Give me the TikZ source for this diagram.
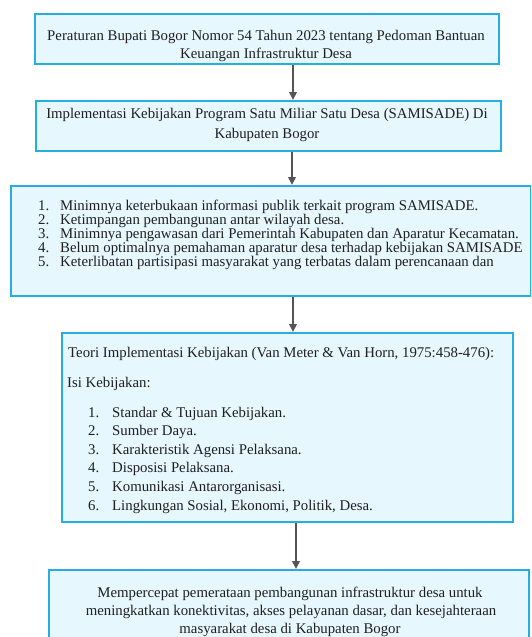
\documentclass[tikz,border=0pt]{standalone}
\usepackage{fontspec}
\setmainfont{Liberation Serif}
\usetikzlibrary{arrows.meta}
\definecolor{boxline}{HTML}{25AEE0}
\definecolor{boxfill}{HTML}{E6F7FE}
\definecolor{arrgray}{HTML}{555555}
\tikzset{
  box/.style={draw=boxline, fill=boxfill, line width=2.4pt, rectangle, inner sep=0pt},
  txt/.style={inner sep=0pt, anchor=base west, text=black!88, font=\fontsize{14.8}{17}\selectfont},
  ctxt/.style={txt, anchor=base},
  arr/.style={draw=arrgray, line width=2pt, -{Triangle[length=8pt,width=7.5pt]}}
}
\begin{document}
\begin{tikzpicture}[x=1pt,y=-1pt]
\useasboundingbox (0,0) rectangle (531,637);
\clip (0,0) rectangle (531,637);
% boxes
\node[box, minimum width=464pt, minimum height=49.5pt, anchor=north west] (B1) at (34,13) {};
\node[box, minimum width=465pt, minimum height=50pt, anchor=north west] (B2) at (35,100) {};
\node[box, minimum width=520pt, minimum height=110pt, anchor=north west] (B3) at (10,185) {};
\node[box, minimum width=451pt, minimum height=189pt, anchor=north west] (B4) at (61,332) {};
\node[box, minimum width=480pt, minimum height=90pt, anchor=north west] (B5) at (48,569) {};
% box 1 text
\node[ctxt] (t1a) at (266,40.5) {Peraturan Bupati Bogor Nomor 54 Tahun 2023 tentang Pedoman Bantuan};
\node[ctxt] (t1b) at (266,58.5) {Keuangan Infrastruktur Desa};
% box 2 text
\node[ctxt] (t2a) at (267,118.5) {Implementasi Kebijakan Program Satu Miliar Satu Desa (SAMISADE) Di};
\node[ctxt] (t2b) at (267,138.5) {Kabupaten Bogor};
% box 3 text
\begin{scope}
\clip (10,185) rectangle (529,295);
\node[txt] (n31) at (38,210) {1.}; \node[txt] (i31) at (60,210) {Minimnya keterbukaan informasi publik terkait program SAMISADE.};
\node[txt] (n32) at (38,224) {2.}; \node[txt] (i32) at (60,224) {Ketimpangan pembangunan antar wilayah desa.};
\node[txt] (n33) at (38,238) {3.}; \node[txt] (i33) at (60,238) {Minimnya pengawasan dari Pemerintah Kabupaten dan Aparatur Kecamatan.};
\node[txt] (n34) at (38,252) {4.}; \node[txt] (i34) at (60,252) {Belum optimalnya pemahaman aparatur desa terhadap kebijakan SAMISADE};
\node[txt] (n35) at (38,266) {5.}; \node[txt] (i35) at (60,266) {Keterlibatan partisipasi masyarakat yang terbatas dalam perencanaan dan};
\end{scope}
% box 4 text
\node[txt] (t4a) at (68,357) {Teori Implementasi Kebijakan (Van Meter \& Van Horn, 1975:458-476):};
\node[txt] (t4b) at (67,387) {Isi Kebijakan:};
\node[txt] (n41) at (88,417) {1.}; \node[txt] (i41) at (112,417) {Standar \& Tujuan Kebijakan.};
\node[txt] (n42) at (88,435.5) {2.}; \node[txt] (i42) at (112,435.5) {Sumber Daya.};
\node[txt] (n43) at (88,454) {3.}; \node[txt] (i43) at (112,454) {Karakteristik Agensi Pelaksana.};
\node[txt] (n44) at (88,472.5) {4.}; \node[txt] (i44) at (112,472.5) {Disposisi Pelaksana.};
\node[txt] (n45) at (88,491.5) {5.}; \node[txt] (i45) at (112,491.5) {Komunikasi Antarorganisasi.};
\node[txt] (n46) at (88,510.5) {6.}; \node[txt] (i46) at (112,510.5) {Lingkungan Sosial, Ekonomi, Politik, Desa.};
% box 5 text
\node[ctxt] (t5a) at (290,597) {Mempercepat pemerataan pembangunan infrastruktur desa untuk};
\node[ctxt] (t5b) at (291,615) {meningkatkan konektivitas, akses pelayanan dasar, dan kesejahteraan};
\node[ctxt] (t5c) at (290,633) {masyarakat desa di Kabupaten Bogor};
% arrows
\draw[arr] (B1.south -| 293,0) -- (B2.north -| 293,0);
\draw[arr] (B2.south -| 292,0) -- (B3.north -| 292,0);
\draw[arr] (B3.south -| 293,0) -- (B4.north -| 293,0);
\draw[arr] (B4.south -| 296,0) -- (B5.north -| 296,0);
\end{tikzpicture}
\end{document}
